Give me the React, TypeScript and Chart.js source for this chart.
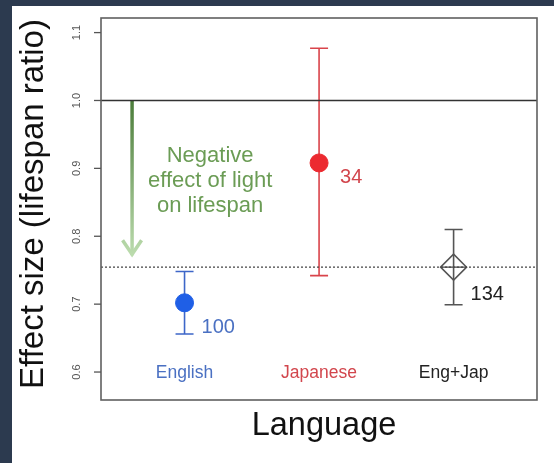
import React, { useEffect, useRef } from "react";
import { Chart, registerables } from "chart.js";

Chart.register(...registerables);

// Effect of light exposure on lifespan, by publication language
const languages = ["English", "Japanese", "Eng+Jap"];
const effectSizes = [0.702, 0.908, 0.7545];
const ciLower = [0.656, 0.742, 0.699];
const ciUpper = [0.748, 1.077, 0.81];
const sampleSizes = [100, 34, 134];
const yTicks = [0.6, 0.7, 0.8, 0.9, 1.0, 1.1];
const noEffect = 1.0;

const X_MIN = 0.379;
const X_MAX = 3.62;
const Y_MIN = 0.5588;
const Y_MAX = 1.1215;

const FONT = "'Liberation Sans', Arial, Helvetica, sans-serif";
const textColors = ["#4a70c2", "#d2464d", "#222222"];
const barColors = ["#3d66c8", "#d9444b", "#555555"];
// pixel offsets of the sample-size labels from each estimate
const nLabelOffsets = [
  [17, 30],
  [21, 20],
  [17, 33],
];

const annotations = {
  id: "annotations",
  beforeDraw(chart: any) {
    const { ctx, width, height } = chart;
    ctx.save();
    ctx.fillStyle = "#2c3a4f";
    ctx.fillRect(0, 0, width, height);
    ctx.fillStyle = "#ffffff";
    ctx.fillRect(12, 6, width - 12, height - 6);
    ctx.restore();
  },
  beforeDatasetsDraw(chart: any) {
    const { ctx, chartArea: a } = chart;
    const xs = chart.scales.x;
    const ys = chart.scales.y;
    ctx.save();

    // confidence intervals
    languages.forEach((_, i) => {
      const x = xs.getPixelForValue(i + 1);
      const yl = ys.getPixelForValue(ciLower[i]);
      const yu = ys.getPixelForValue(ciUpper[i]);
      ctx.strokeStyle = barColors[i];
      ctx.lineWidth = 1.6;
      ctx.beginPath();
      ctx.moveTo(x, yl);
      ctx.lineTo(x, yu);
      ctx.moveTo(x - 9, yl);
      ctx.lineTo(x + 9, yl);
      ctx.moveTo(x - 9, yu);
      ctx.lineTo(x + 9, yu);
      ctx.stroke();
    });
    // cross inside the pooled diamond
    {
      const x = xs.getPixelForValue(3);
      const y = ys.getPixelForValue(effectSizes[2]);
      ctx.strokeStyle = barColors[2];
      ctx.lineWidth = 1.4;
      ctx.beginPath();
      ctx.moveTo(x - 13, y);
      ctx.lineTo(x + 13, y);
      ctx.stroke();
    }

    // arrow showing the direction of a negative effect
    const ax = xs.getPixelForValue(0.61);
    const aTop = ys.getPixelForValue(noEffect);
    const aBot = ys.getPixelForValue(0.772);
    const grad = ctx.createLinearGradient(0, aTop, 0, aBot);
    grad.addColorStop(0, "#4b7c3a");
    grad.addColorStop(1, "#bcdcae");
    ctx.strokeStyle = grad;
    ctx.lineWidth = 3.5;
    ctx.lineCap = "butt";
    ctx.beginPath();
    ctx.moveTo(ax, aTop);
    ctx.lineTo(ax, aBot);
    ctx.stroke();
    ctx.lineWidth = 3.5;
    ctx.lineJoin = "miter";
    ctx.beginPath();
    ctx.moveTo(ax - 9.5, aBot - 15);
    ctx.lineTo(ax, aBot - 1);
    ctx.lineTo(ax + 9.5, aBot - 15);
    ctx.stroke();

    // arrow caption
    const tx = xs.getPixelForValue(1.19);
    ctx.fillStyle = "#6b9c55";
    ctx.font = `22px ${FONT}`;
    ctx.textAlign = "center";
    ctx.textBaseline = "alphabetic";
    ctx.fillText("Negative", tx, 162);
    ctx.fillText("effect of light", tx, 187);
    ctx.fillText("on lifespan", tx, 212);

    ctx.restore();
  },
  afterDraw(chart: any) {
    const { ctx, chartArea: a } = chart;
    const xs = chart.scales.x;
    const ys = chart.scales.y;
    ctx.save();

    // frame
    ctx.strokeStyle = "#606060";
    ctx.lineWidth = 1.6;
    ctx.strokeRect(a.left, a.top, a.right - a.left, a.bottom - a.top);

    // y ticks and rotated tick labels
    ctx.strokeStyle = "#555555";
    ctx.lineWidth = 1.3;
    ctx.fillStyle = "#555555";
    ctx.font = `11px ${FONT}`;
    ctx.textAlign = "center";
    ctx.textBaseline = "alphabetic";
    yTicks.forEach((v) => {
      const y = ys.getPixelForValue(v);
      ctx.beginPath();
      ctx.moveTo(a.left - 7, y);
      ctx.lineTo(a.left, y);
      ctx.stroke();
      ctx.save();
      ctx.translate(80, y);
      ctx.rotate(-Math.PI / 2);
      ctx.fillText(v.toFixed(1), 0, 0);
      ctx.restore();
    });

    // category labels inside the plot
    ctx.font = `17.5px ${FONT}`;
    languages.forEach((name, i) => {
      ctx.fillStyle = textColors[i];
      ctx.fillText(name, xs.getPixelForValue(i + 1), ys.getPixelForValue(0.6) + 6);
    });

    // sample sizes
    ctx.font = `20px ${FONT}`;
    ctx.textAlign = "left";
    sampleSizes.forEach((n, i) => {
      ctx.fillStyle = textColors[i];
      const x = xs.getPixelForValue(i + 1) + nLabelOffsets[i][0];
      const y = ys.getPixelForValue(effectSizes[i]) + nLabelOffsets[i][1];
      ctx.fillText(String(n), x, y);
    });

    // axis titles
    ctx.fillStyle = "#111111";
    ctx.textAlign = "center";
    ctx.font = `33px ${FONT}`;
    ctx.save();
    ctx.translate(43, 204);
    ctx.rotate(-Math.PI / 2);
    ctx.fillText("Effect size (lifespan ratio)", 0, 0);
    ctx.restore();
    ctx.font = `32.5px ${FONT}`;
    ctx.fillText("Language", 324, 435);

    ctx.restore();
  },
};

export default function App() {
  const ref = useRef<HTMLCanvasElement | null>(null);

  useEffect(() => {
    if (!ref.current) return;
    const chart = new Chart(ref.current, {
      type: "scatter",
      data: {
        datasets: [
          {
            type: "line",
            label: "No effect",
            data: [
              { x: X_MIN, y: noEffect },
              { x: X_MAX, y: noEffect },
            ],
            borderColor: "#333333",
            borderWidth: 1.4,
            pointRadius: 0,
          },
          {
            type: "line",
            label: "Pooled estimate",
            data: [
              { x: X_MIN, y: effectSizes[2] },
              { x: X_MAX, y: effectSizes[2] },
            ],
            borderColor: "#444444",
            borderWidth: 1.4,
            borderDash: [2, 2],
            pointRadius: 0,
          },
          {
            label: "Per language",
            data: [
              { x: 1, y: effectSizes[0] },
              { x: 2, y: effectSizes[1] },
            ],
            pointRadius: 9,
            pointBorderWidth: 1,
            backgroundColor: ["#1f5fe6", "#ec2a30"],
            borderColor: ["#1f5fe6", "#ec2a30"],
          },
          {
            label: "Combined",
            data: [{ x: 3, y: effectSizes[2] }],
            pointStyle: "rectRot",
            pointRadius: 13,
            pointBorderWidth: 1.5,
            backgroundColor: "rgba(0,0,0,0)",
            borderColor: "#555555",
          },
        ],
      },
      options: {
        responsive: false,
        animation: false,
        layout: { padding: { left: 101, top: 18, right: 17, bottom: 63 } },
        plugins: { legend: { display: false }, tooltip: { enabled: false } },
        scales: {
          x: { type: "linear", min: X_MIN, max: X_MAX, display: false },
          y: { type: "linear", min: Y_MIN, max: Y_MAX, display: false },
        },
      },
      plugins: [annotations],
    });
    return () => chart.destroy();
  }, []);

  return (
    <div style={{ position: "fixed", left: 0, top: 0, width: 554, height: 463 }}>
      <canvas ref={ref} width={554} height={463} style={{ display: "block" }} />
    </div>
  );
}
